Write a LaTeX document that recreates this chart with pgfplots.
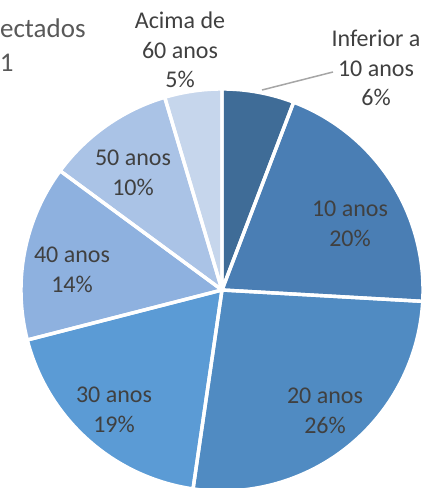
\documentclass[border=0pt]{standalone}
\usepackage{pgfplots}
\pgfplotsset{compat=1.18}
\usepackage{pgfplotstable}
\usepackage{fontspec}
\setmainfont{Carlito}
\definecolor{pc0}{HTML}{3F6C97}
\definecolor{pc1}{HTML}{4A7EB4}
\definecolor{pc2}{HTML}{508BC2}
\definecolor{pc3}{HTML}{5B9BD5}
\definecolor{pc4}{HTML}{8EB1DF}
\definecolor{pc5}{HTML}{AAC3E6}
\definecolor{pc6}{HTML}{C6D6EC}
\definecolor{lbl}{HTML}{404040}
\definecolor{ttl}{HTML}{595959}
\definecolor{leader}{HTML}{A6A6A6}
\pgfplotstableread{
idx pct
0 5.8
1 20.1
2 26.4
3 18.7
4 14.1
5 10.3
6 4.6
}\piedata
\begin{document}
\begin{tikzpicture}
\def\acc{0}%
\foreach \i in {0,...,6}{%
  \pgfplotstablegetelem{\i}{pct}\of\piedata
  \pgfmathsetmacro\s{90-3.6*\acc}%
  \pgfmathsetmacro\e{90-3.6*(\acc+\pgfplotsretval)}%
  \expandafter\xdef\csname sa\i\endcsname{\s}%
  \expandafter\xdef\csname ea\i\endcsname{\e}%
  \pgfmathsetmacro\newacc{\acc+\pgfplotsretval}%
  \xdef\acc{\newacc}%
}
\begin{axis}[
  x=0.5pt, y=0.5pt,
  xmin=0, xmax=435, ymin=0, ymax=488,
  hide axis,
  clip=true,
]
\coordinate (bl) at (axis cs:0,0);
\coordinate (tr) at (axis cs:435,488);
\pgfplotsinvokeforeach{0,...,6}{
  \fill[pc#1] (axis cs:222,198) -- ++(\csname sa#1\endcsname:100.5pt)
    arc[start angle=\csname sa#1\endcsname, end angle=\csname ea#1\endcsname, radius=100.5pt] -- cycle;
}
\pgfplotsinvokeforeach{0,...,6}{
  \draw[white, line width=1.7pt, line join=round] (axis cs:222,198) -- ++(\csname sa#1\endcsname:100.5pt)
    arc[start angle=\csname sa#1\endcsname, end angle=\csname ea#1\endcsname, radius=100.5pt] -- cycle;
}
\draw[leader, line width=0.75pt] (axis cs:262,398) -- (axis cs:333,416);
\begin{scope}[every node/.style={font=\fontsize{12}{14.8}\selectfont, text=lbl, align=center, inner sep=0pt}]
\node at (axis cs:180,438) {Acima de\\60 anos\\5\%};
\node at (axis cs:376,420) {Inferior a\\10 anos\\6\%};
\node at (axis cs:350,264) {10 anos\\20\%};
\node at (axis cs:325,77) {20 anos\\26\%};
\node at (axis cs:114,78) {30 anos\\19\%};
\node at (axis cs:72,218) {40 anos\\14\%};
\node at (axis cs:133,315) {50 anos\\10\%};
\end{scope}
\node[anchor=base east, font=\fontsize{13.5}{16}\selectfont, text=ttl, inner sep=0pt] at (axis cs:86,450) {ectados};
\node[anchor=base east, font=\fontsize{13.5}{16}\selectfont, text=ttl, inner sep=0pt] at (axis cs:14,416) {1};
\end{axis}
\pgfresetboundingbox
\path (bl) rectangle (tr);
\end{tikzpicture}
\end{document}
